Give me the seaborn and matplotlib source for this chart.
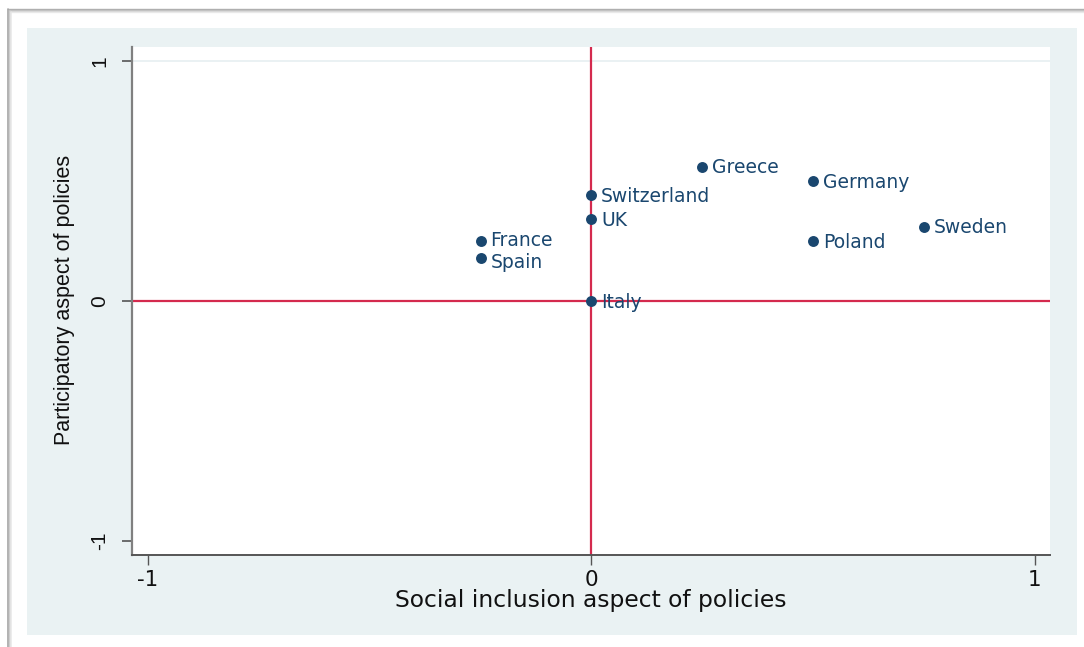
import matplotlib
matplotlib.use("Agg")
import matplotlib.pyplot as plt
from matplotlib.lines import Line2D
from matplotlib.patches import Rectangle
import seaborn as sns
import pandas as pd

countries = ["Greece", "Germany", "Switzerland", "UK", "France", "Spain", "Poland", "Sweden", "Italy"]
social_inclusion = [0.25, 0.5, 0.0, 0.0, -0.25, -0.25, 0.5, 0.75, 0.0]
participatory = [0.56, 0.5, 0.44, 0.34, 0.25, 0.18, 0.25, 0.31, 0.0]
tick_values = [-1, 0, 1]
tick_labels = ["-1", "0", "1"]

df = pd.DataFrame({"country": countries, "x": social_inclusion, "y": participatory})

sns.set_style("white")
plt.rcParams["font.family"] = ["DejaVu Sans"]

W, H = 1084, 647
fig = plt.figure(figsize=(W / 100, H / 100), dpi=100)
fig.patch.set_facecolor("white")

# page shadow / frame
for i, (a, c) in enumerate([(0.25, "#9a9a9a"), (0.5, "#b5b5b5"), (0.35, "#d0d0d0"), (0.2, "#e6e6e6")]):
    fig.add_artist(Line2D([(8 + i) / W, 1.0], [1 - (9 + i) / H] * 2, color=c, lw=1, alpha=0.8,
                          transform=fig.transFigure))
    fig.add_artist(Line2D([(8 + i) / W] * 2, [0, 1 - (9 + i) / H], color=c, lw=1.2, alpha=0.9,
                          transform=fig.transFigure))
# light blue graph region
fig.add_artist(Rectangle((27 / W, (H - 635) / H), (1077 - 27) / W, (635 - 28) / H,
                         transform=fig.transFigure, facecolor="#eaf2f3", edgecolor="none", zorder=0))

ax = fig.add_axes([132 / W, (H - 555) / H, (1050 - 132) / W, (555 - 47) / H])
ax.set_facecolor("white")

navy = "#1a476f"
red = "#d42a4e"

ax.axhline(1, color="#e6eff1", lw=1.2, zorder=0)
ax.axvline(0, color=red, lw=1.6, zorder=1)
ax.axhline(0, color=red, lw=1.6, zorder=1)

sns.scatterplot(data=df, x="x", y="y", ax=ax, s=62, color=navy, edgecolor=navy, linewidth=0, zorder=3)

label_dy = {"France": 1.0, "Spain": -2.5}
for name, xv, yv in zip(countries, social_inclusion, participatory):
    ax.annotate(name, (xv, yv), xytext=(7, -1 + label_dy.get(name, 0)), textcoords="offset points",
                ha="left", va="center", fontsize=13.5, color=navy, zorder=4)

ax.set_xlim(-1.036, 1.034)
ax.set_ylim(-1.058, 1.058)

ax.set_xticks(tick_values)
ax.set_xticklabels(tick_labels, fontsize=15.5, color="#111111")
ax.set_yticks(tick_values)
ax.set_yticklabels(tick_labels, fontsize=15, color="#111111", rotation=90, va="center",
                   family=["Liberation Sans"])
ax.tick_params(axis="x", length=7.5, width=1, color="#555555", pad=3, bottom=True)
ax.tick_params(axis="y", length=7.5, width=1.2, color="#555555", pad=9, left=True)

for s in ["top", "right"]:
    ax.spines[s].set_visible(False)
ax.spines["left"].set_color("#808080")
ax.spines["left"].set_linewidth(1.6)
ax.spines["bottom"].set_color("#555555")
ax.spines["bottom"].set_linewidth(1.4)

ax.set_xlabel("Social inclusion aspect of policies", fontsize=16.8, color="#111111")
ax.xaxis.set_label_coords(0.5, (555 - 600) / 508)
ax.xaxis.label.set_va("center")
ax.set_ylabel("Participatory aspect of policies", fontsize=15.5, color="#111111",
              family=["Liberation Sans"])
ax.yaxis.set_label_coords((65 - 132) / 918, (555 - 300) / 508)
ax.yaxis.label.set_va("center")

fig.savefig("out.png", dpi=100, facecolor="white")
